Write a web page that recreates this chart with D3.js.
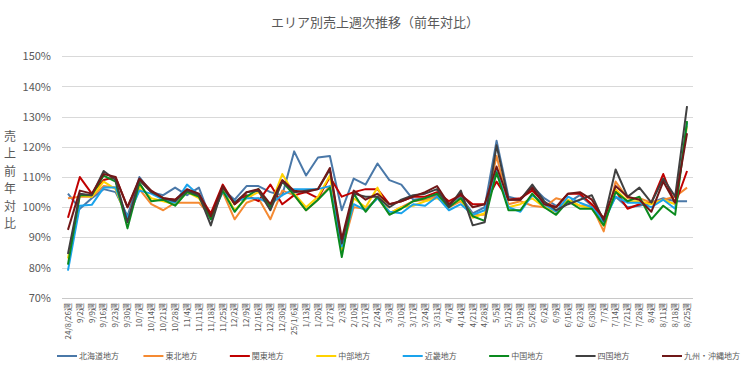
<!DOCTYPE html>
<html><head><meta charset="utf-8">
<script src="https://cdn.jsdelivr.net/npm/d3@7"></script>
<style>body{margin:0;background:#fff}svg{display:block}text{font-family:"Noto Sans CJK JP","Noto Sans",sans-serif}</style>
</head><body><div id="chart"></div>
<script>
const weeks = ["24/8/26週","9/2週","9/9週","9/16週","9/23週","9/30週","10/7週","10/14週","10/21週","10/28週","11/4週","11/11週","11/18週","11/25週","12/2週","12/9週","12/16週","12/23週","12/30週","25/1/6週","1/13週","1/20週","1/27週","2/3週","2/10週","2/17週","2/24週","3/3週","3/10週","3/17週","3/24週","3/31週","4/7週","4/14週","4/21週","4/28週","5/5週","5/12週","5/19週","5/26週","6/2週","6/9週","6/16週","6/23週","6/30週","7/7週","7/14週","7/21週","7/28週","8/4週","8/11週","8/18週","8/25週"];
const seriesNames = ["北海道地方","東北地方","関東地方","中部地方","近畿地方","中国地方","四国地方","九州・沖縄地方"];
const seriesColors = ["#4a78a8","#f58a32","#c00000","#ffd200","#1aa3ec","#0a8a1e","#404040","#701818"];
const hokkaido = [104.5,99.5,103,106,105,97,110,105,104,106.5,104,106.5,96,106,102.5,107,107,105,104,118.5,110.5,116.5,117,99,109.5,107.5,114.5,109,107.5,102.5,103,104,101,103.5,98,100,122,103.5,102.5,107,103,100.5,101.5,104,100.5,96,103.5,100,100.5,101.5,103,102,102];
const tohoku = [103,103.5,103.5,107,106.5,96,106,101,99,101.5,101.5,101.5,97,105,96,101.5,103,96,105.5,104,99,102.5,107,85.5,100,99.5,103,98,100,102,102.5,103.5,100,102,97.5,97.5,117,101,102,100.5,100,103,102,100.5,100.5,92,108.5,103,103,101.5,102.5,103.5,106.5];
const kanto = [96.5,110,104.5,109,110,100,109,105,103,102.5,105.5,104,98,107.5,101,104,102,107.5,101,104,105,103,110,103.5,105,106,106,101,102,103.5,103.5,105,102,104,101,101,108.5,102.5,103,105.5,101.5,100,104.5,104.5,101,96.5,105.5,99.5,101,101.5,111,101,112];
const chubu = [83,104,103.5,108.5,106,96,107,103,102,101,105,103,96.5,106,99,103,105,100.5,111,104.5,100,103.5,110.5,86,103,100,106.5,98,100,100.5,102,103,100.5,102.5,96.5,98,112,100,101,103,100,98.5,102.5,100.5,99.5,94,106,102,102,101,102.5,101,127];
const kinki = [79,100.5,100.8,106.5,106.5,96.5,105.5,104.5,102.5,101.5,107.5,104,96.5,105,102,103,103,101,104,106,106,106,107,87,101,99,103,98.5,98,101,100.5,103.5,99,101,97.5,99,112,100,98.5,104,101,98.5,103.5,101.5,100,95,103.5,101.5,101.5,100,102.5,99.5,128];
const chugoku = [81,104,104,110.5,108.5,93,108,102,102.5,100.5,105,103.5,96,105.5,98.5,103.5,106,100,108.5,104,99,102.5,106.5,83.5,104.5,98.5,103.5,97.5,99.5,102,103,104.5,100,103,97,95.5,111.5,99,99,104.5,100,97.5,102,99.5,99.5,94,105,102,103.5,96,100.5,97.5,128.5];
const shikoku = [84.5,104.5,104,112,109,95,109,105,103,102,105.5,104,94,106.5,101.5,105,105.5,99,108.5,105,105.5,106,112.5,88,104.5,103.5,103.5,100,102.5,104,104.5,106,100,105.5,94,95,120.5,102.5,102.5,107.5,102,99,101,102.5,104,95.5,112.5,103.5,106.5,101.5,109.5,103.5,133.5];
const kyushu = [92.5,105.5,104.5,111,110,100,109.5,105.5,103,102.5,106,104.5,97,107,101,105,106,101,109,105.5,105,106,113,89.5,105.5,102.5,104.5,101,102,103.5,105,107,101,104.5,100,101,113.5,102.5,102.5,106.5,101,100,104.5,105,102.5,96,107,103.5,102.5,98.5,108.5,101.5,124.5];
const yTicks = [70,80,90,100,110,120,130,140,150];
const seriesValues = [hokkaido,tohoku,kanto,chubu,kinki,chugoku,shikoku,kyushu];

const W=742,H=365;
const svg=d3.select("#chart").append("svg").attr("width",W).attr("height",H);
const x=d3.scaleBand().domain(weeks).range([62,693]).padding(0);
const y=d3.scaleLinear().domain([70,150]).range([297.8,56.3]);
const cx=d=>x(d)+x.bandwidth()/2;

svg.append("text").attr("x",375).attr("y",27).attr("text-anchor","middle")
  .attr("font-size",13).attr("fill","#595959").text("エリア別売上週次推移（前年対比）");

// grid
svg.append("g").selectAll("line").data(yTicks).join("line")
  .attr("x1",62).attr("x2",693).attr("y1",d=>Math.round(y(d))+0.5).attr("y2",d=>Math.round(y(d))+0.5)
  .attr("stroke",d=>d===70?"#c8c8c8":"#d9d9d9").attr("stroke-width",1);

// y axis labels
const yAxis=d3.axisLeft(y).tickValues(yTicks).tickSize(0).tickPadding(0).tickFormat(d=>d+"%");
const gy=svg.append("g").attr("transform","translate(51,0)").call(yAxis);
gy.select(".domain").remove();
gy.selectAll("text").attr("font-size",11).attr("fill","#595959").style("font-family","'Noto Sans CJK JP',sans-serif");

// y title stacked
const ytitle="売上前年対比".split("");
svg.append("g").selectAll("text").data(ytitle).join("text")
  .attr("x",10).attr("y",(d,i)=>141+i*17.4).attr("text-anchor","middle")
  .attr("font-size",12).attr("fill","#595959").text(d=>d);

// x axis labels
const xAxis=d3.axisBottom(x).tickSize(0).tickPadding(0);
const gx=svg.append("g").attr("transform","translate(0,298)").call(xAxis);
gx.select(".domain").remove();
gx.selectAll("text").attr("font-size",8).attr("fill","#595959")
  .style("font-family","'Noto Sans CJK JP',sans-serif")
  .attr("text-anchor","end").attr("dy","0.35em")
  .attr("transform","translate(0,5) rotate(-90)").attr("y",0).attr("x",0);

// lines
const line=d3.line().x((d,i)=>cx(weeks[i])).y(d=>y(d));
svg.append("g").selectAll("path").data(seriesValues).join("path")
  .attr("d",d=>line(d)).attr("fill","none")
  .attr("stroke",(d,i)=>seriesColors[i]).attr("stroke-width",2).attr("stroke-linejoin","round");

// legend
const lx=d3.scalePoint().domain(seriesNames).range([57,662]);
const lg=svg.append("g").selectAll("g").data(seriesNames).join("g")
  .attr("transform",d=>`translate(${lx(d)},356)`);
lg.append("line").attr("x1",0).attr("x2",20).attr("y1",0).attr("y2",0)
  .attr("stroke",(d,i)=>seriesColors[i]).attr("stroke-width",2);
lg.append("text").attr("x",22).attr("y",0).attr("dy","0.35em").attr("font-size",8)
  .attr("fill","#595959").text(d=>d);
</script></body></html>
